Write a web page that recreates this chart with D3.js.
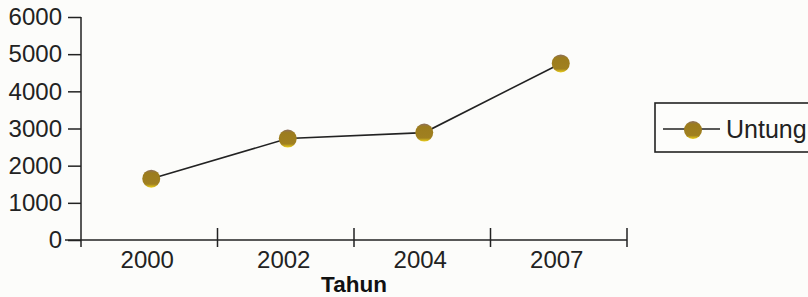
<!DOCTYPE html>
<html>
<head>
<meta charset="utf-8">
<script src="https://cdn.jsdelivr.net/npm/d3@7"></script>
<style>
  body { margin: 0; background: #fcfcfa; }
  svg { display: block; font-family: "Liberation Sans", Arial, sans-serif; }
</style>
</head>
<body>
<svg width="808" height="297"></svg>
<script>
// chart data
const years = ["2000", "2002", "2004", "2007"];
const untung = [1650, 2730, 2890, 4750];
const yTicks = [0, 1000, 2000, 3000, 4000, 5000, 6000];

const svg = d3.select("svg");

// gradient for the markers (scanned look: purple top edge, yellow lower edge)
const grad = svg.append("defs").append("linearGradient")
    .attr("id", "dot").attr("x1", 0).attr("y1", 0).attr("x2", 0).attr("y2", 1);
grad.append("stop").attr("offset", "0%").attr("stop-color", "#8d7060");
grad.append("stop").attr("offset", "18%").attr("stop-color", "#9c7c1e");
grad.append("stop").attr("offset", "80%").attr("stop-color", "#a08020");
grad.append("stop").attr("offset", "100%").attr("stop-color", "#eed21c");

const x = d3.scaleBand().domain(years).range([81, 627]);
const y = d3.scaleLinear().domain([0, 6000]).range([240, 17]);

// y axis
const yAxis = svg.append("g")
    .attr("transform", "translate(81,0)")
    .call(d3.axisLeft(y).tickValues(yTicks).tickFormat(d3.format("d"))
        .tickSize(13).tickPadding(6).tickSizeOuter(0));
yAxis.select(".domain").remove();
yAxis.attr("font-size", 24).attr("font-family", "Liberation Sans, Arial, sans-serif");
yAxis.selectAll(".tick line").attr("stroke", "#222").attr("stroke-width", 1.5);
yAxis.selectAll(".tick text").attr("fill", "#222");

svg.append("line")
    .attr("x1", 81).attr("x2", 81)
    .attr("y1", y(6000)).attr("y2", y(0) + 7)
    .attr("stroke", "#222").attr("stroke-width", 1.5);

// x axis
svg.append("line")
    .attr("x1", 65).attr("x2", x.range()[1])
    .attr("y1", y(0)).attr("y2", y(0))
    .attr("stroke", "#222").attr("stroke-width", 1.5);

svg.selectAll(".xsep")
    .data(years)
    .enter().append("line")
    .attr("class", "xsep")
    .attr("x1", d => x(d) + x.bandwidth()).attr("x2", d => x(d) + x.bandwidth())
    .attr("y1", y(0) - 12).attr("y2", y(0) + 7)
    .attr("stroke", "#222").attr("stroke-width", 1.5);

svg.selectAll(".xlabel")
    .data(years)
    .enter().append("text")
    .attr("class", "xlabel")
    .attr("x", d => x(d) + x.bandwidth() / 2 - 2)
    .attr("y", 268)
    .attr("text-anchor", "middle")
    .attr("font-size", 24)
    .attr("fill", "#222")
    .text(d => d);

svg.append("text")
    .attr("x", (x.range()[0] + x.range()[1]) / 2)
    .attr("y", 292)
    .attr("text-anchor", "middle")
    .attr("font-size", 22.5)
    .attr("font-weight", "bold")
    .attr("fill", "#111")
    .text("Tahun");

// series line + markers
const pts = years.map((d, i) => [x(d) + x.bandwidth() / 2 + 2, y(untung[i])]);

svg.append("path")
    .attr("d", d3.line()(pts))
    .attr("fill", "none")
    .attr("stroke", "#222")
    .attr("stroke-width", 1.6);

svg.selectAll(".dot")
    .data(pts)
    .enter().append("circle")
    .attr("class", "dot")
    .attr("cx", d => d[0])
    .attr("cy", d => d[1])
    .attr("r", 9)
    .attr("fill", "url(#dot)");

// legend
const legend = svg.append("g").attr("transform", "translate(655,103)");
legend.append("rect")
    .attr("width", 170).attr("height", 49)
    .attr("fill", "#fdfdfb")
    .attr("stroke", "#222").attr("stroke-width", 1.6);
legend.append("line")
    .attr("x1", 8).attr("x2", 65).attr("y1", 26).attr("y2", 26)
    .attr("stroke", "#222").attr("stroke-width", 1.6);
legend.append("circle")
    .attr("cx", 38).attr("cy", 27).attr("r", 9)
    .attr("fill", "url(#dot)");
legend.append("text")
    .attr("x", 71).attr("y", 35)
    .attr("font-size", 25)
    .attr("fill", "#222")
    .text("Untung");
</script>
</body>
</html>
